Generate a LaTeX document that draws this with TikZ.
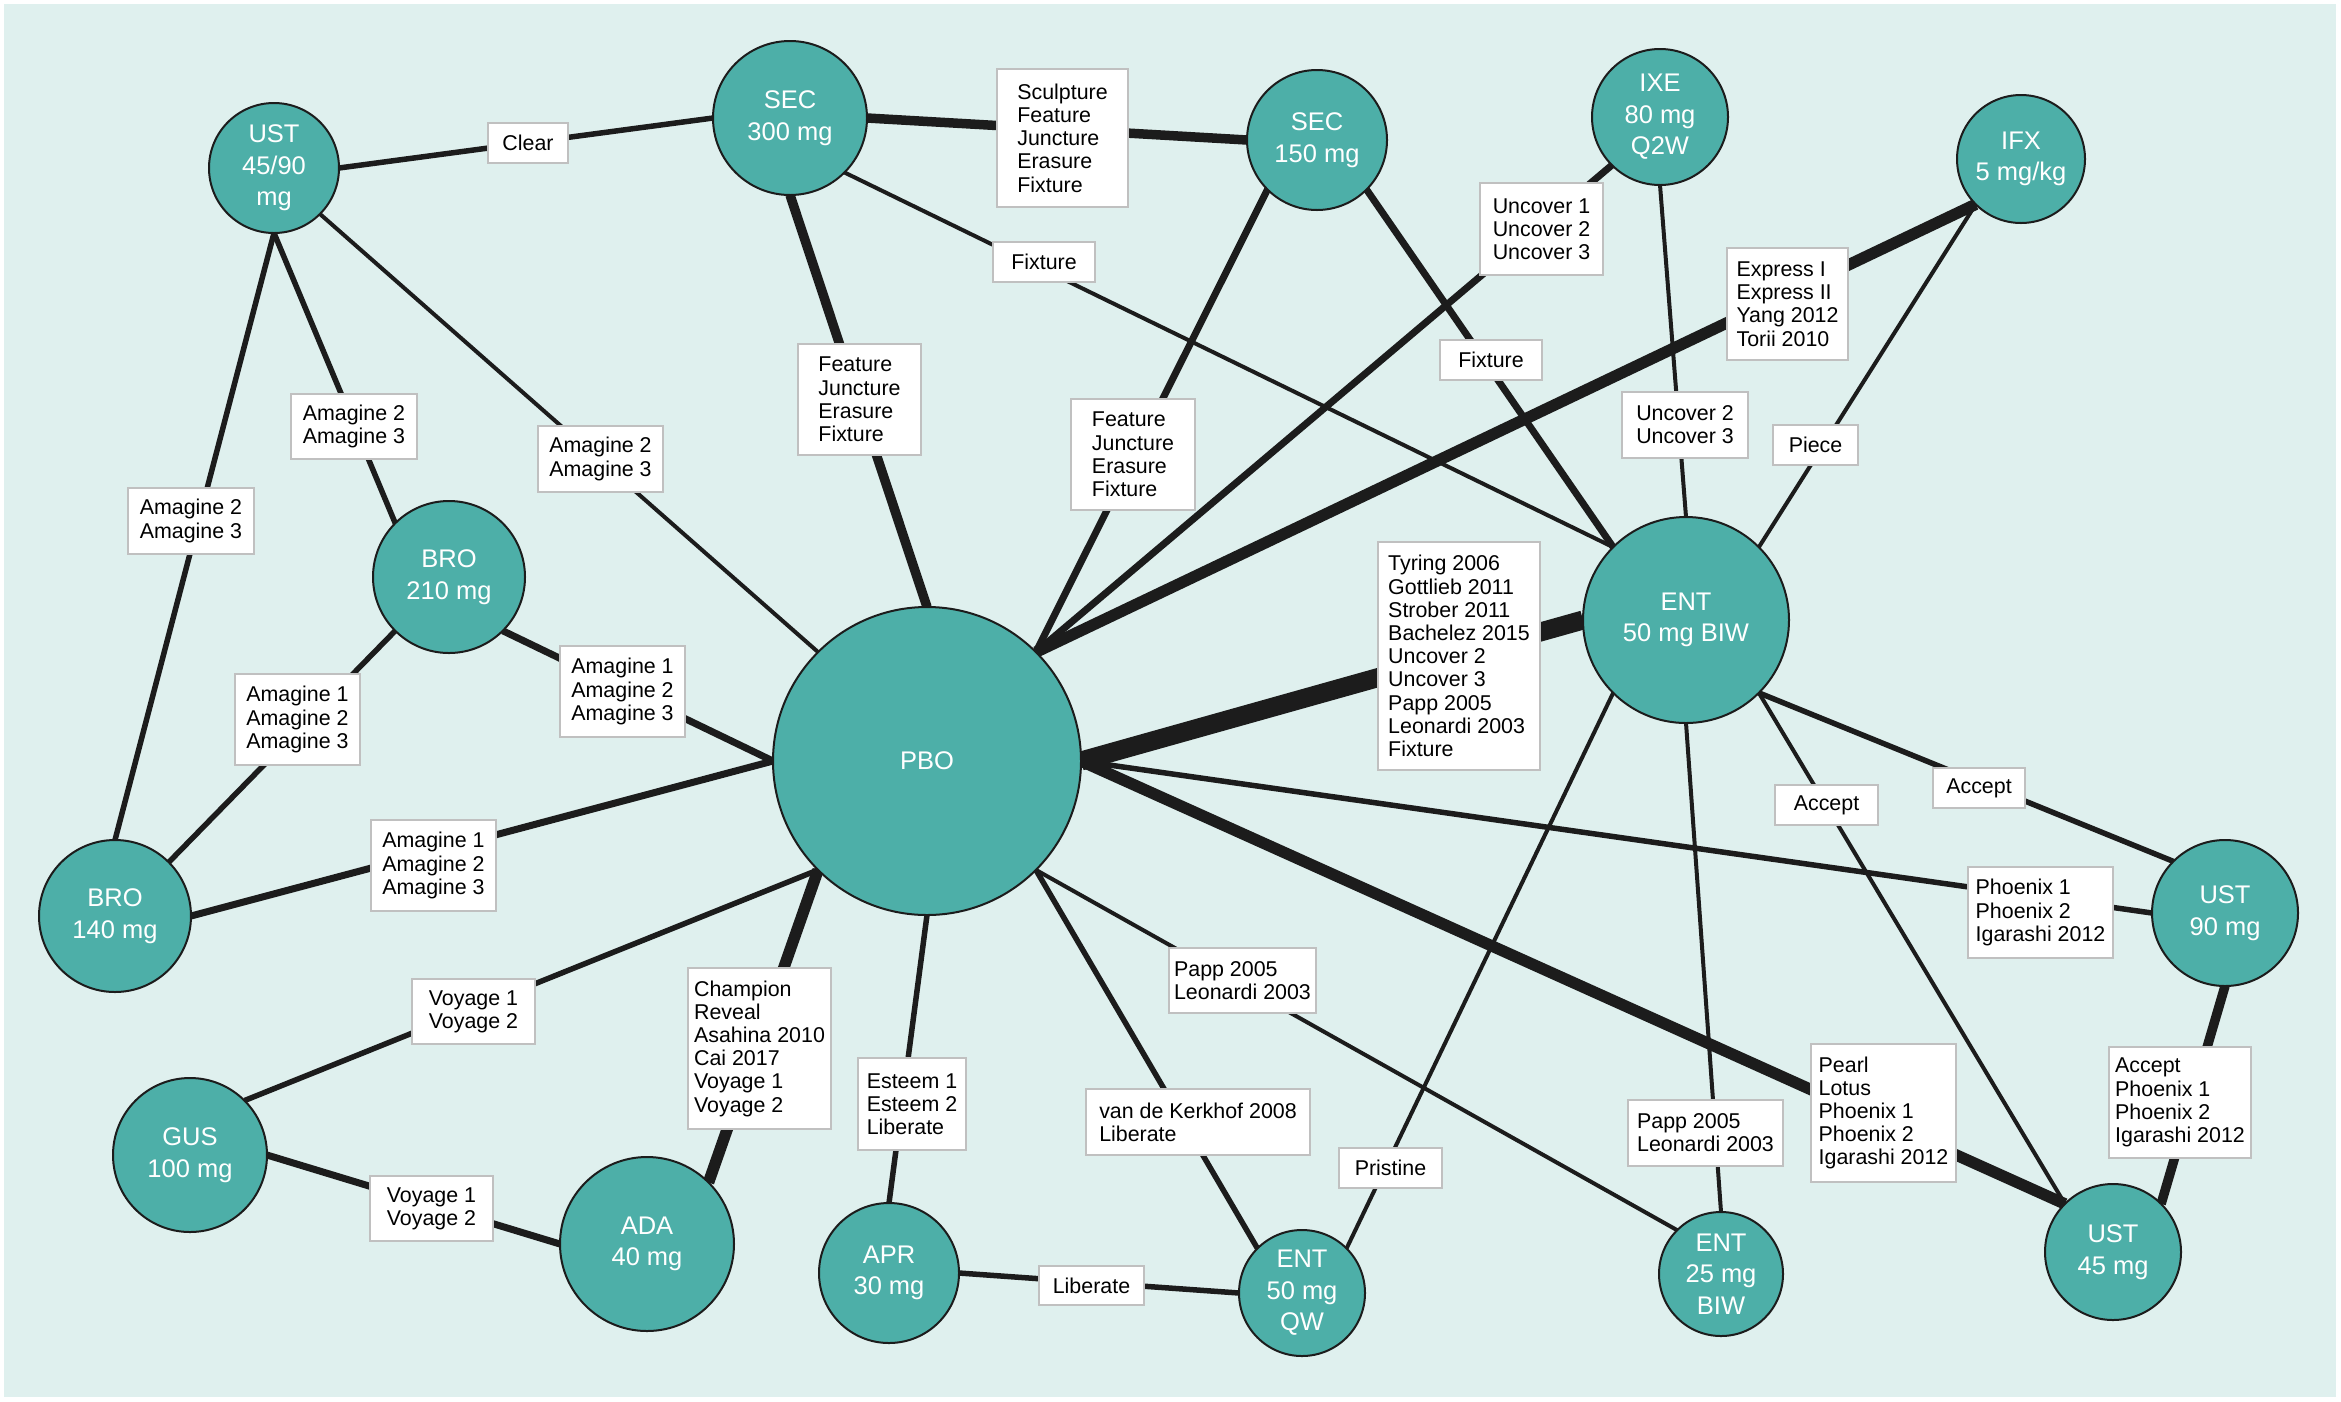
\documentclass[tikz,border=0pt]{standalone}
\usepackage{fontspec}
\setmainfont{Liberation Sans}
\pgfdeclarelayer{bgl}
\pgfdeclarelayer{edgel}
\pgfsetlayers{bgl,edgel,main}
\definecolor{bgteal}{RGB}{223,240,238}
\definecolor{nodeteal}{RGB}{77,175,168}
\definecolor{edgecol}{RGB}{28,28,28}
\definecolor{boxgray}{RGB}{192,192,192}
\begin{document}
\begin{tikzpicture}[x=1pt,y=-1pt,
  drug/.style={circle, draw=edgecol, line width=2pt, fill=nodeteal, text=white, align=center,
    font=\fontsize{25.5}{31.5}\selectfont, inner sep=0pt, outer sep=0pt},
  lbl/.style={rectangle, draw=boxgray, line width=2pt, fill=white, align=left,
    font=\fontsize{21.4}{23.2}\selectfont, inner xsep=5pt, inner ysep=0pt, text=black},
  ea/.style={draw=edgecol, line width=4pt},
  eb/.style={draw=edgecol, line width=5.5pt},
  ec/.style={draw=edgecol, line width=7pt},
  ed/.style={draw=edgecol, line width=9.5pt},
  ee/.style={draw=edgecol, line width=11.5pt},
  ef/.style={draw=edgecol, line width=19pt}]
\useasboundingbox (0,0) rectangle (2341,1401);
\begin{pgfonlayer}{bgl}
\fill[white] (0,0) rectangle (2341,1401);
\fill[bgteal] (4,4) rectangle (2336,1397);
\end{pgfonlayer}

% drug nodes
\node[drug, minimum size=130pt] (ust4590) at (274,168) {UST\\45/90\\mg};
\node[drug, minimum size=154pt] (sec300) at (790,118) {SEC\\300 mg};
\node[drug, minimum size=140pt] (sec150) at (1317,140) {SEC\\150 mg};
\node[drug, minimum size=136pt] (ixe) at (1660,117) {IXE\\80 mg\\Q2W};
\node[drug, minimum size=128pt] (ifx) at (2021,159) {IFX\\5 mg/kg};
\node[drug, minimum size=152pt] (bro210) at (449,577) {BRO\\210 mg};
\node[drug, minimum size=152pt] (bro140) at (115,916) {BRO\\140 mg};
\node[drug, minimum size=308pt] (pbo) at (927,761) {PBO};
\node[drug, minimum size=206pt] (ent50biw) at (1686,620) {ENT\\50 mg BIW};
\node[drug, minimum size=146pt] (ust90) at (2225,913) {UST\\90 mg};
\node[drug, minimum size=154pt] (gus) at (190,1155) {GUS\\100 mg};
\node[drug, minimum size=174pt] (ada) at (647,1244) {ADA\\40 mg};
\node[drug, minimum size=140pt] (apr) at (889,1273) {APR\\30 mg};
\node[drug, minimum size=126pt] (entqw) at (1302,1293) {ENT\\50 mg\\QW};
\node[drug, minimum size=124pt] (ent25) at (1721,1274) {ENT\\25 mg\\BIW};
\node[drug, minimum size=136pt] (ust45) at (2113,1252) {UST\\45 mg};

% edges
\begin{pgfonlayer}{edgel}
\draw[eb] (ust4590.east) -- (sec300.west);
\draw[ed] (sec300.east) -- (sec150.west);
\draw[ea] (sec300.south east) -- (ent50biw.north west);
\draw[ed] (sec300.south) -- (pbo.north);
\draw[ec] (sec150.south west) -- (pbo.north east);
\draw[ec] (sec150.south east) -- (ent50biw.north west);
\draw[ec] (ixe.south west) -- (pbo.north east);
\draw[ea] (ixe.south) -- (ent50biw.north);
\draw[ee] (ifx.south west) -- (pbo.north east);
\draw[ea] (ifx.south west) -- (ent50biw.north east);
\draw[ef] (pbo.east) -- (ent50biw.west);
\draw[eb] (ust4590.south) -- (bro210.north west);
\draw[ea] (ust4590.south east) -- (pbo.north west);
\draw[eb] (ust4590.south) -- (bro140.north);
\draw[eb] (bro210.south west) -- (bro140.north east);
\draw[ec] (bro210.south east) -- (pbo.west);
\draw[ec] (bro140.east) -- (pbo.west);
\draw[eb] (pbo.south west) -- (gus.north east);
\draw[ec] (gus.east) -- (ada.west);
\draw[ee] (pbo.south west) -- (ada.north east);
\draw[eb] (pbo.south) -- (apr.north);
\draw[eb] (pbo.south east) -- (entqw.north west);
\draw[ea] (pbo.south east) -- (ent25.north west);
\draw[eb] (pbo.east) -- (ust90.west);
\draw[ee] (pbo.east) -- (ust45.north west);
\draw[eb] (apr.east) -- (entqw.west);
\draw[ea] (ent50biw.south west) -- (entqw.north east);
\draw[ea] (ent50biw.south) -- (ent25.north);
\draw[ea] (ent50biw.south east) -- (ust45.north west);
\draw[eb] (ent50biw.south east) -- (ust90.north west);
\draw[ed] (ust90.south) -- (ust45.north east);
\end{pgfonlayer}

% edge labels
\node[lbl, minimum width=80pt, minimum height=40pt] (l1) at (528,143) {Clear};
\node[lbl, minimum width=131pt, minimum height=138pt] (l2) at (1062.5,138) {Sculpture\\Feature\\Juncture\\Erasure\\Fixture};
\node[lbl, minimum width=102pt, minimum height=40pt] (l3) at (1044,262) {Fixture};
\node[lbl, minimum width=123pt, minimum height=111pt] (l4) at (859.5,399.5) {Feature\\Juncture\\Erasure\\Fixture};
\node[lbl, minimum width=124pt, minimum height=111pt] (l5) at (1133,454.5) {Feature\\Juncture\\Erasure\\Fixture};
\node[lbl, minimum width=123pt, minimum height=92pt] (l6) at (1541.5,229) {Uncover 1\\Uncover 2\\Uncover 3};
\node[lbl, minimum width=102pt, minimum height=40pt] (l7) at (1491,360) {Fixture};
\node[lbl, minimum width=121pt, minimum height=112pt] (l8) at (1787.5,304) {Express I\\Express II\\Yang 2012\\Torii 2010};
\node[lbl, minimum width=126pt, minimum height=66pt] (l9) at (1685,425) {Uncover 2\\Uncover 3};
\node[lbl, minimum width=85pt, minimum height=40pt] (l10) at (1815.5,445) {Piece};
\node[lbl, minimum width=162pt, minimum height=228pt] (l11) at (1459,656) {Tyring 2006\\Gottlieb 2011\\Strober 2011\\Bachelez 2015\\Uncover 2\\Uncover 3\\Papp 2005\\Leonardi 2003\\Fixture};
\node[lbl, minimum width=126pt, minimum height=65pt] (l12) at (354,426.5) {Amagine 2\\Amagine 3};
\node[lbl, minimum width=125pt, minimum height=66pt] (l13) at (600.5,459) {Amagine 2\\Amagine 3};
\node[lbl, minimum width=126pt, minimum height=66pt] (l14) at (191,521) {Amagine 2\\Amagine 3};
\node[lbl, minimum width=125pt, minimum height=91pt] (l15) at (297.5,719.5) {Amagine 1\\Amagine 2\\Amagine 3};
\node[lbl, minimum width=125pt, minimum height=91pt] (l16) at (622.5,691.5) {Amagine 1\\Amagine 2\\Amagine 3};
\node[lbl, minimum width=125pt, minimum height=91pt] (l17) at (433.5,865.5) {Amagine 1\\Amagine 2\\Amagine 3};
\node[lbl, minimum width=123pt, minimum height=65pt] (l18) at (473.5,1011.5) {Voyage 1\\Voyage 2};
\node[lbl, minimum width=123pt, minimum height=65pt] (l19) at (431.5,1208.5) {Voyage 1\\Voyage 2};
\node[lbl, minimum width=143pt, minimum height=161pt] (l20) at (759.5,1048.5) {Champion\\Reveal\\Asahina 2010\\Cai 2017\\Voyage 1\\Voyage 2};
\node[lbl, minimum width=108pt, minimum height=92pt] (l21) at (912,1104) {Esteem 1\\Esteem 2\\Liberate};
\node[lbl, minimum width=224pt, minimum height=66pt] (l22) at (1198,1122) {van de Kerkhof 2008\\Liberate};
\node[lbl, minimum width=145pt, minimum height=65pt] (l23) at (1242.5,980.5) {Papp 2005\\Leonardi 2003};
\node[lbl, minimum width=105pt, minimum height=39pt] (l24) at (1091.5,1285.5) {Liberate};
\node[lbl, minimum width=103pt, minimum height=40pt] (l25) at (1390.5,1168) {Pristine};
\node[lbl, minimum width=155pt, minimum height=66pt] (l26) at (1705.5,1133) {Papp 2005\\Leonardi 2003};
\node[lbl, minimum width=145pt, minimum height=138pt] (l27) at (1883.5,1113) {Pearl\\Lotus\\Phoenix 1\\Phoenix 2\\Igarashi 2012};
\node[lbl, minimum width=142pt, minimum height=111pt] (l28) at (2180,1102.5) {Accept\\Phoenix 1\\Phoenix 2\\Igarashi 2012};
\node[lbl, minimum width=103pt, minimum height=40pt] (l29) at (1826.5,805) {Accept};
\node[lbl, minimum width=92pt, minimum height=40pt] (l30) at (1979,788) {Accept};
\node[lbl, minimum width=145pt, minimum height=91pt] (l31) at (2040.5,912.5) {Phoenix 1\\Phoenix 2\\Igarashi 2012};
\end{tikzpicture}
\end{document}
